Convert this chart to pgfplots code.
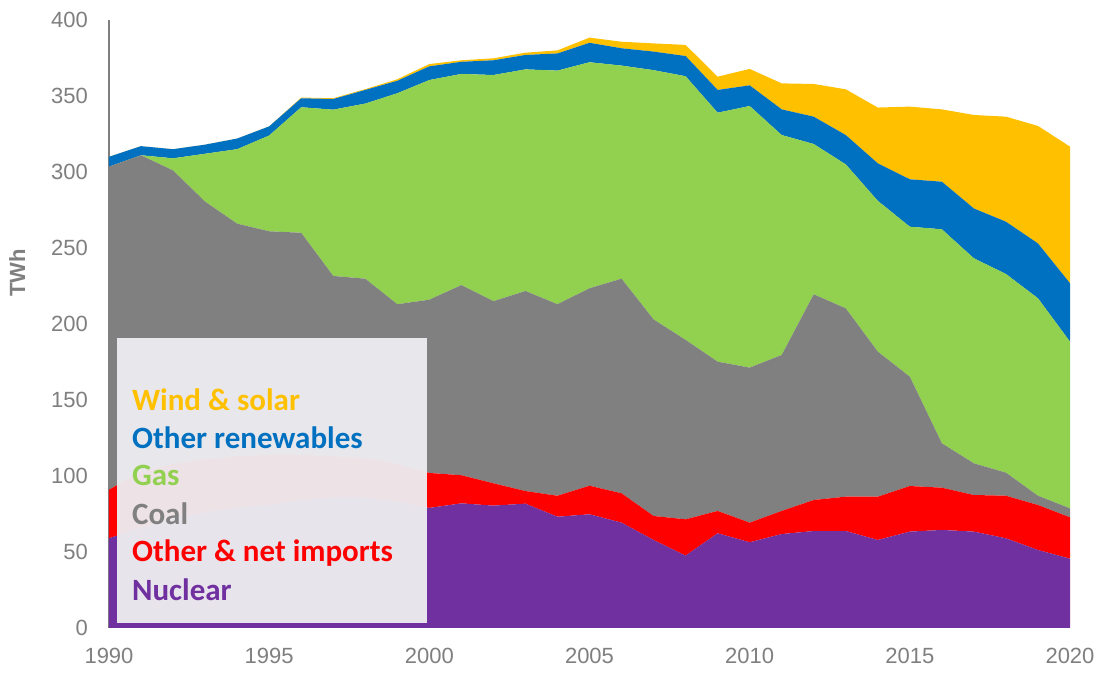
\documentclass[border=0pt]{standalone}
\usepackage{pgfplots}
\pgfplotsset{compat=1.18}
\usepackage{fontspec}
\setmainfont{Liberation Sans}
\newfontfamily\carlito{Carlito}
\definecolor{cNuc}{HTML}{7030A0}
\definecolor{cOth}{HTML}{FF0000}
\definecolor{cCoal}{HTML}{808080}
\definecolor{cGas}{HTML}{92D050}
\definecolor{cRen}{HTML}{0070C0}
\definecolor{cWind}{HTML}{FFC000}
\definecolor{tickgray}{HTML}{7F7F7F}
\definecolor{boxgray}{HTML}{EDECF0}
\tikzset{legtxt/.style={anchor=base west, inner sep=0pt, font=\carlito\bfseries\fontsize{15.5}{18}\selectfont}}
\pgfplotstableread{
year nuc oth coal gas ren wind
1990 59.0 32.0 212.5 0.0 6.5 0.0
1991 66.0 37.0 208.0 0.0 6.0 0.0
1992 72.0 36.0 193.0 8.0 6.0 0.0
1993 76.0 35.0 169.5 31.5 6.0 0.0
1994 79.0 34.0 153.0 49.0 7.0 0.0
1995 81.0 33.0 147.0 63.0 6.0 0.0
1996 84.0 30.0 146.0 82.6 5.9 0.5
1997 86.0 27.0 118.6 109.4 7.0 0.5
1998 86.0 26.0 117.8 115.2 9.0 0.5
1999 83.0 25.0 105.0 138.8 8.2 1.0
2000 79.0 23.0 114.0 144.5 9.0 1.5
2001 82.0 18.5 125.1 138.9 8.0 1.0
2002 80.5 14.7 119.8 148.8 9.7 1.3
2003 81.8 8.3 131.6 145.8 9.5 1.5
2004 73.2 13.8 126.0 153.7 11.3 2.0
2005 74.8 18.8 129.9 148.7 12.8 3.4
2006 69.3 19.3 141.2 140.2 11.4 4.3
2007 57.9 15.8 129.3 164.0 12.2 5.4
2008 47.6 23.9 118.0 173.5 13.3 7.3
2009 62.3 14.7 98.2 163.8 15.0 8.7
2010 56.4 12.9 102.0 172.1 13.6 10.8
2011 61.8 15.2 102.6 144.7 16.9 17.1
2012 63.8 20.4 135.3 98.9 18.0 21.5
2013 63.8 22.6 123.9 94.7 19.3 30.1
2014 57.9 28.5 95.4 99.2 24.7 36.7
2015 63.4 30.0 71.9 98.7 31.2 47.8
2016 64.5 27.8 29.2 140.8 31.3 47.6
2017 63.4 24.1 20.8 134.9 32.8 61.5
2018 59.0 28.0 15.2 130.7 34.4 69.1
2019 51.3 29.6 6.1 129.9 36.1 77.3
2020 45.6 27.2 5.9 109.7 38.4 89.9
}\datatable
\begin{document}
\begin{tikzpicture}
\useasboundingbox (-54.5pt,-22.5pt) rectangle (499pt,314pt);
\begin{axis}[
  at={(0,0)}, anchor=south west,
  scale only axis, width=480.5pt, height=304pt,
  xmin=1990, xmax=2020, ymin=0, ymax=400,
  stack plots=y,
  clip=false,
  xtick={1990,1995,...,2020}, ytick={0,50,...,400},
  major tick length=0pt,
  axis y line*=left, axis x line*=bottom,
  x axis line style={draw=none},
  y axis line style={draw=tickgray, line width=0.6pt},
  /pgf/number format/assume math mode=true,
  /pgf/number format/1000 sep={},
  ticklabel style={font=\fontsize{11}{13}\selectfont, text=tickgray},
  yticklabel style={anchor=east, xshift=-7pt},
  xticklabel style={anchor=north, yshift=-6.5pt},
]
\addplot[fill=cNuc, draw=none] table[x=year, y=nuc] {\datatable} \closedcycle;
\addplot[fill=cOth, draw=none] table[x=year, y=oth] {\datatable} \closedcycle;
\addplot[fill=cCoal, draw=none] table[x=year, y=coal] {\datatable} \closedcycle;
\addplot[fill=cGas, draw=none] table[x=year, y=gas] {\datatable} \closedcycle;
\addplot[fill=cRen, draw=none] table[x=year, y=ren] {\datatable} \closedcycle;
\addplot[fill=cWind, draw=none] table[x=year, y=wind] {\datatable} \closedcycle;
\node[rotate=90, font=\bfseries\fontsize{11}{13}\selectfont, text=tickgray] at (axis cs:1987.13,233.6) {TWh};
\end{axis}
% legend box (axis origin at (0,0); 1 year = 16.0167pt, 1 TWh = 0.76pt)
\fill[boxgray, opacity=0.96] (3.84pt,2.36pt) rectangle (158.9pt,144.9pt);
\node[legtxt, text=cWind] at (11.37pt,108.5pt) {Wind \& solar};
\node[legtxt, text=cRen] at (11.37pt,89.8pt) {Other renewables};
\node[legtxt, text=cGas] at (11.37pt,71.0pt) {Gas};
\node[legtxt, text=cCoal] at (11.37pt,51.8pt) {Coal};
\node[legtxt, text=cOth] at (11.37pt,33.1pt) {Other \& net imports};
\node[legtxt, text=cNuc] at (11.37pt,13.7pt) {Nuclear};
\end{tikzpicture}
\end{document}
